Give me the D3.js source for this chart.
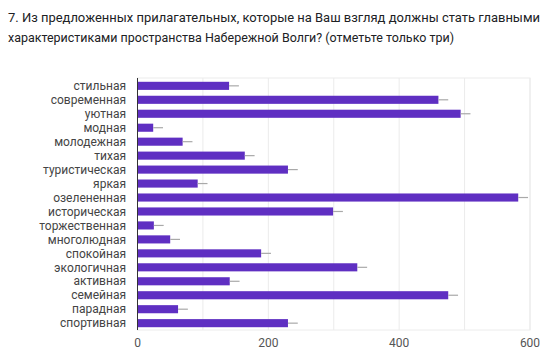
<!DOCTYPE html>
<html><head><meta charset="utf-8">
<script src="https://cdn.jsdelivr.net/npm/d3@7"></script>
<style>
html,body{margin:0;padding:0;background:#fff;}
svg{display:block;}
</style></head>
<body>
<svg id="chart" width="549" height="357"></svg>
<script>
const titleLines = [
  "7. Из предложенных прилагательных, которые на Ваш взгляд должны стать главными",
  "характеристиками пространства Набережной Волги? (отметьте только три)"
];
const categories = ["стильная","современная","уютная","модная","молодежная","тихая","туристическая","яркая","озелененная","историческая","торжественная","многолюдная","спокойная","экологичная","активная","семейная","парадная","спортивная"];
const values = [140,460,494,24,69,164,230,92,582,299,25,50,189,336,141,475,62,230];
const xTicks = [0,200,400,600];
const xGrid = [100,200,300,400,500,600];
const errSpan = 15;

const svg = d3.select("#chart");
const m = {left:137.5, right:530, top:78, bottom:330};
const titleWidths = [532, 446];

svg.selectAll("text.title").data(titleLines).enter().append("text")
  .attr("x",8).attr("y",(d,i)=>22+i*20)
  .attr("font-family","Roboto, sans-serif").attr("font-size",12.6)
  .attr("textLength",(d,i)=>titleWidths[i]).attr("lengthAdjust","spacingAndGlyphs")
  .attr("fill","#202124").text(d=>d);

const x = d3.scaleLinear().domain([0,600]).range([m.left,m.right]);
const y = d3.scaleBand().domain(categories).range([m.top+1,m.bottom]).paddingInner(0.42).paddingOuter(0.2);

svg.append("rect").attr("x",m.left).attr("y",m.top).attr("width",m.right-m.left).attr("height",m.bottom-m.top)
  .attr("fill","none").attr("stroke","#ececec");
svg.selectAll("line.grid").data(xGrid).enter().append("line")
  .attr("x1",d=>x(d)).attr("x2",d=>x(d)).attr("y1",m.top).attr("y2",m.bottom)
  .attr("stroke","#ebebeb").attr("stroke-width",1);

svg.selectAll("rect.bar").data(categories).enter().append("rect")
  .attr("x",x(0)).attr("y",d=>y(d))
  .attr("width",(d,i)=>x(values[i])-x(0)).attr("height",y.bandwidth())
  .attr("fill","#5f2fc2");
svg.selectAll("line.err").data(categories).enter().append("line")
  .attr("x1",(d,i)=>x(values[i])).attr("x2",(d,i)=>x(values[i]+errSpan))
  .attr("y1",d=>y(d)+y.bandwidth()/2).attr("y2",d=>y(d)+y.bandwidth()/2)
  .attr("stroke","#a9a9a9").attr("stroke-width",1.2);

svg.append("line").attr("x1",x(0)).attr("x2",x(0)).attr("y1",m.top).attr("y2",m.bottom)
  .attr("stroke","#333").attr("stroke-width",1);

svg.selectAll("text.cat").data(categories).enter().append("text")
  .attr("x",126).attr("y",d=>y(d)+y.bandwidth()/2).attr("dy","0.35em")
  .attr("text-anchor","end").attr("font-family","Roboto, sans-serif").attr("font-size",12)
  .attr("fill","#444").text(d=>d);

svg.selectAll("text.tick").data(xTicks).enter().append("text")
  .attr("x",d=>x(d)).attr("y",347).attr("text-anchor","middle")
  .attr("font-family","Roboto, sans-serif").attr("font-size",12).attr("fill","#555").text(d=>d);
</script>
</body></html>
